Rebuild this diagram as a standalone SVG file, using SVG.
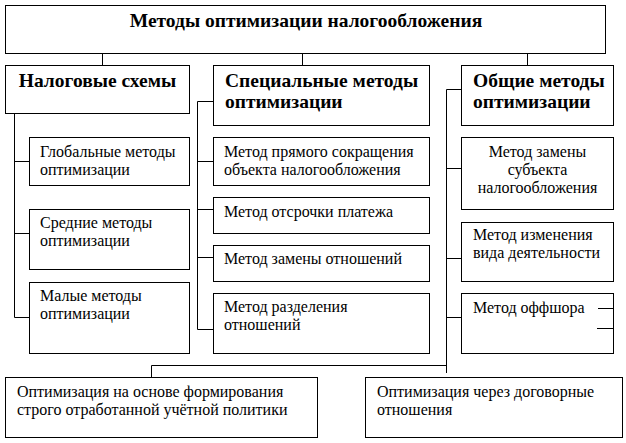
<svg xmlns="http://www.w3.org/2000/svg" width="626" height="443" viewBox="0 0 626 443">
<style>
.b{fill:#fff;stroke:#000;stroke-width:1}
.c{fill:none;stroke:#000;stroke-width:1}
.t{font-family:'Liberation Serif','Times New Roman',serif;font-size:16px;fill:#000}
.h{font-family:'Liberation Serif','Times New Roman',serif;font-size:19.5px;font-weight:bold;fill:#000}
.m{text-anchor:middle}
</style>
<rect width="626" height="443" fill="#fff"/>
<g id="connectors" class="c">
<path d="M102.5 53.5V65.5M302.5 53.5V65.5M527.5 53.5V65.5"/>
<path d="M14.5 113.5V317.5M14.5 161.5H29.5M14.5 233.5H29.5M14.5 317.5H29.5"/>
<path d="M197.5 101.5V329.5M197.5 101.5H213.5M197.5 161.5H213.5M197.5 209.5H213.5M197.5 257.5H213.5M197.5 329.5H213.5"/>
<path d="M446.5 89.5V373M446.5 89.5H461.5M446.5 168.5H461.5M446.5 258.5H461.5M446.5 317.5H461.5"/>
<path d="M151.5 377.5V365.5H446.5"/>
</g>
<g id="root"><rect class="b" x="5.5" y="5.5" width="600" height="48"/><text class="h m" x="306" y="27">Методы оптимизации налогообложения</text></g>
<g id="nalog-schemes"><rect class="b" x="5.5" y="65.5" width="184" height="48"/><text class="h m" x="97.5" y="87">Налоговые схемы</text></g>
<g id="special"><rect class="b" x="213.5" y="65.5" width="216" height="60"/><text class="h" x="225" y="87">Специальные методы</text><text class="h" x="225" y="108">оптимизации</text></g>
<g id="general"><rect class="b" x="461.5" y="65.5" width="152" height="60"/><text class="h" x="473" y="87">Общие методы</text><text class="h" x="473" y="108">оптимизации</text></g>
<g id="global"><rect class="b" x="29.5" y="137.5" width="160" height="48"/><text class="t" x="40" y="157">Глобальные методы</text><text class="t" x="40" y="175">оптимизации</text></g>
<g id="medium"><rect class="b" x="29.5" y="209.5" width="160" height="60"/><text class="t" x="40" y="228">Средние методы</text><text class="t" x="40" y="246">оптимизации</text></g>
<g id="small"><rect class="b" x="29.5" y="282.5" width="160" height="71"/><text class="t" x="40" y="301">Малые методы</text><text class="t" x="40" y="319">оптимизации</text></g>
<g id="direct"><rect class="b" x="213.5" y="137.5" width="216" height="48"/><text class="t" x="224" y="157">Метод прямого сокращения</text><text class="t" x="224" y="175">объекта налогообложения</text></g>
<g id="deferral"><rect class="b" x="213.5" y="197.5" width="216" height="36"/><text class="t" x="224" y="217">Метод отсрочки платежа</text></g>
<g id="replace-rel"><rect class="b" x="213.5" y="245.5" width="216" height="36"/><text class="t" x="224" y="264">Метод замены отношений</text></g>
<g id="split-rel"><rect class="b" x="213.5" y="293.5" width="216" height="60"/><text class="t" x="224" y="312">Метод разделения</text><text class="t" x="224" y="330">отношений</text></g>
<g id="subject"><rect class="b" x="461.5" y="137.5" width="152" height="72"/><text class="t m" x="537.5" y="157">Метод замены</text><text class="t m" x="537.5" y="175">субъекта</text><text class="t m" x="537.5" y="193">налогообложения</text></g>
<g id="activity"><rect class="b" x="461.5" y="222.5" width="152" height="59"/><text class="t" x="473" y="240">Метод изменения</text><text class="t" x="473" y="258">вида деятельности</text></g>
<g id="offshore"><rect class="b" x="461.5" y="293.5" width="152" height="60"/><text class="t" x="473" y="313">Метод оффшора</text><path class="c" d="M598 308.5H613.5M597 328.5H613.5"/></g>
<g id="accounting"><rect class="b" x="5.5" y="377.5" width="312" height="60"/><text class="t" x="17" y="397">Оптимизация на основе формирования</text><text class="t" x="17" y="415">строго отработанной учётной политики</text></g>
<g id="contract"><rect class="b" x="365.5" y="377.5" width="257" height="60"/><text class="t" x="377" y="397">Оптимизация через договорные</text><text class="t" x="377" y="415">отношения</text></g>
</svg>
